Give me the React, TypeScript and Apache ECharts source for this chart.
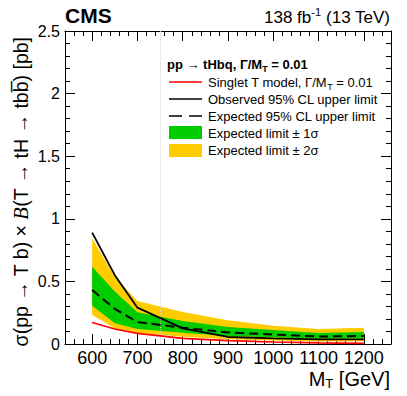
import React, { useEffect, useRef } from "react";
import * as echarts from "echarts";

const masses = [600, 650, 700, 800, 900, 1000, 1100, 1200];
const observed = [0.89, 0.55, 0.29, 0.125, 0.056, 0.045, 0.037, 0.037];
const expected = [0.431, 0.28, 0.175, 0.13, 0.092, 0.076, 0.06, 0.064];
const green1Lo = [0.306, 0.165, 0.12, 0.09, 0.064, 0.053, 0.042, 0.045];
const green1Hi = [0.618, 0.42, 0.253, 0.184, 0.135, 0.112, 0.088, 0.096];
const yellow2Lo = [0.232, 0.125, 0.09, 0.058, 0.037, 0.027, 0.02, 0.021];
const yellow2Hi = [0.845, 0.537, 0.343, 0.255, 0.19, 0.146, 0.12, 0.13];
const theory = [0.172, 0.12, 0.085, 0.045, 0.027, 0.016, 0.009, 0.005];
const xMajorTicks = [600, 700, 800, 900, 1000, 1100, 1200];
const refLineMass = 750;

const FONT = "'Liberation Sans', Arial, Helvetica, sans-serif";
const SERIF = "'Liberation Serif', 'Times New Roman', serif";

function bandSeries(name: string, lo: number[], hi: number[], color: string, z: number) {
  return {
    type: "custom",
    name,
    z,
    silent: true,
    data: masses.map((m, i) => [m, lo[i], hi[i]]),
    encode: { x: 0, y: [1, 2] },
    renderItem: (params: any, api: any) => {
      if (params.dataIndex !== 0) return null;
      const pts: number[][] = [];
      for (let i = 0; i < masses.length; i++) pts.push(api.coord([masses[i], hi[i]]));
      for (let i = masses.length - 1; i >= 0; i--) pts.push(api.coord([masses[i], lo[i]]));
      return {
        type: "polygon",
        shape: { points: pts },
        style: { fill: color, stroke: "none" },
      };
    },
  };
}

export default function App() {
  const ref = useRef<HTMLDivElement>(null);
  useEffect(() => {
    if (!ref.current) return;
    const chart = echarts.init(ref.current, null, { renderer: "svg" });
    const pair = (arr: number[]) => masses.map((m, i) => [m, arr[i]]);
    const minorX = {
      type: "value" as const,
      min: 540,
      max: 1260,
      interval: 20,
      axisLine: { show: true, lineStyle: { color: "#000", width: 1 } },
      axisTick: { show: true, inside: true, length: 5, lineStyle: { color: "#000" } },
      axisLabel: { show: false },
      splitLine: { show: false },
    };
    const majorX = {
      type: "value" as const,
      min: 540,
      max: 1260,
      axisLine: { show: false },
      axisTick: { show: true, inside: true, length: 10, customValues: xMajorTicks, lineStyle: { color: "#000" } },
      splitLine: { show: false },
    };
    const yBase = {
      type: "value" as const,
      min: 0,
      max: 2.5,
      interval: 0.5,
      axisLine: { show: true, lineStyle: { color: "#000", width: 1 } },
      axisTick: { show: true, inside: true, length: 10, lineStyle: { color: "#000" } },
      minorTick: { show: true, splitNumber: 5, length: 5, lineStyle: { color: "#000" } },
      splitLine: { show: false },
      minorSplitLine: { show: false },
    };
    const option: any = {
      animation: false,
      grid: { left: 65, right: 16, top: 31, bottom: 52, containLabel: false, outerBoundsMode: "none" },
      xAxis: [
        { ...minorX, position: "bottom" },
        {
          ...majorX,
          position: "bottom",
          axisLabel: {
            show: true,
            customValues: xMajorTicks,
            formatter: (v: number) => String(v),
            color: "#000",
            fontSize: 18,
            lineHeight: 18,
            fontFamily: FONT,
            margin: 5,
          },
        },
        { ...minorX, position: "top" },
        { ...majorX, position: "top", axisLabel: { show: false } },
      ],
      yAxis: [
        {
          ...yBase,
          position: "left",
          axisLabel: { show: true, color: "#000", fontSize: 16, fontFamily: FONT, margin: 5, formatter: (v: number) => String(v) },
        },
        { ...yBase, position: "right", axisLabel: { show: false } },
      ],
      series: [
        {
          type: "line",
          name: "ref",
          data: [],
          z: 0,
          markLine: {
            silent: true,
            symbol: "none",
            label: { show: false },
            lineStyle: { color: "#d0d0d0", width: 1, type: "dotted" },
            data: [{ xAxis: refLineMass }],
          },
        },
        bandSeries("Expected limit ± 2σ", yellow2Lo, yellow2Hi, "#ffcc00", 2),
        bandSeries("Expected limit ± 1σ", green1Lo, green1Hi, "#00cc00", 3),
        {
          type: "line",
          name: "Expected 95% CL upper limit",
          data: pair(expected),
          symbol: "none",
          lineStyle: { color: "#000", width: 2, type: [9, 5] },
          z: 5,
        },
        {
          type: "line",
          name: "Observed 95% CL upper limit",
          data: pair(observed),
          symbol: "none",
          lineStyle: { color: "#000", width: 1.8 },
          z: 6,
        },
        {
          type: "line",
          name: "Singlet T model",
          data: pair(theory),
          symbol: "none",
          lineStyle: { color: "#ff0000", width: 1.6 },
          z: 7,
        },
      ],
      graphic: [
        {
          type: "text",
          left: 65,
          top: 5,
          style: { text: "CMS", font: `bold 21px ${FONT}`, fill: "#000" },
        },
        {
          type: "text",
          x: 390,
          y: 16,
          style: {
            text: "{n|138 fb}{s|-1}{n| (13 TeV)}",
            align: "right",
            verticalAlign: "middle",
            rich: {
              n: { fontSize: 17, fontFamily: FONT, fill: "#000", lineHeight: 20, verticalAlign: "bottom" },
              s: { fontSize: 11, fontFamily: FONT, fill: "#000", lineHeight: 11, verticalAlign: "top" },
            },
          },
        },
        {
          type: "text",
          x: 21,
          y: 37,
          rotation: Math.PI / 2,
          style: {
            text: "{n|σ(pp → T b) × }{i|B}{n|(T → tH → tb}{n|b\u0305}{n|) [pb]}",
            align: "right",
            verticalAlign: "middle",
            rich: {
              n: { fontSize: 19.5, fontFamily: FONT, fill: "#000" },
              i: { fontSize: 20.5, fontFamily: SERIF, fontStyle: "italic", fill: "#000" },
            },
          },
        },
        {
          type: "text",
          x: 390,
          y: 379,
          style: {
            text: "{m|M}{s|T}{m| [GeV]}",
            align: "right",
            verticalAlign: "middle",
            rich: {
              m: { fontSize: 20, fontFamily: FONT, fill: "#000", lineHeight: 21, verticalAlign: "middle" },
              s: { fontSize: 13, fontFamily: FONT, fill: "#000", lineHeight: 12, verticalAlign: "bottom" },
            },
          },
        },
        {
          type: "text",
          x: 167,
          y: 64,
          style: {
            text: "{b|pp → tHbq, Γ/M}{bs|T}{b| = 0.01}",
            verticalAlign: "middle",
            rich: {
              b: { fontSize: 13, fontWeight: "bold", fontFamily: FONT, fill: "#000", lineHeight: 18, verticalAlign: "middle" },
              bs: { fontSize: 9, fontWeight: "bold", fontFamily: FONT, fill: "#000", lineHeight: 9, verticalAlign: "bottom" },
            },
          },
        },
        { type: "line", shape: { x1: 169, y1: 82, x2: 202, y2: 82 }, style: { stroke: "#ff0000", lineWidth: 1.5 } },
        { type: "line", shape: { x1: 169, y1: 99, x2: 202, y2: 99 }, style: { stroke: "#000", lineWidth: 1.5 } },
        { type: "line", shape: { x1: 169, y1: 116, x2: 202, y2: 116 }, style: { stroke: "#000", lineWidth: 1.5, lineDash: [13, 7] } },
        { type: "rect", shape: { x: 169, y: 126, width: 33, height: 13 }, style: { fill: "#00cc00" } },
        { type: "rect", shape: { x: 169, y: 144, width: 33, height: 13 }, style: { fill: "#ffcc00" } },
        {
          type: "text",
          x: 208,
          y: 82,
          style: {
            text: "{n|Singlet T model, Γ/M}{s|T}{n| = 0.01}",
            verticalAlign: "middle",
            rich: {
              n: { fontSize: 13, fontFamily: FONT, fill: "#000", lineHeight: 18, verticalAlign: "middle" },
              s: { fontSize: 9, fontFamily: FONT, fill: "#000", lineHeight: 9, verticalAlign: "bottom" },
            },
          },
        },
        {
          type: "text",
          x: 208,
          y: 99,
          style: { text: "Observed 95% CL upper limit", font: `13px ${FONT}`, fill: "#000", verticalAlign: "middle" },
        },
        {
          type: "text",
          x: 208,
          y: 116,
          style: { text: "Expected 95% CL upper limit", font: `13px ${FONT}`, fill: "#000", verticalAlign: "middle" },
        },
        {
          type: "text",
          x: 208,
          y: 133,
          style: { text: "Expected limit ± 1σ", font: `13px ${FONT}`, fill: "#000", verticalAlign: "middle" },
        },
        {
          type: "text",
          x: 208,
          y: 150,
          style: { text: "Expected limit ± 2σ", font: `13px ${FONT}`, fill: "#000", verticalAlign: "middle" },
        },
      ],
    };
    chart.setOption(option);
    return () => chart.dispose();
  }, []);
  return (
    <div
      ref={ref}
      style={{ position: "fixed", left: 0, top: 0, width: 407, height: 396, background: "#fff" }}
    />
  );
}
